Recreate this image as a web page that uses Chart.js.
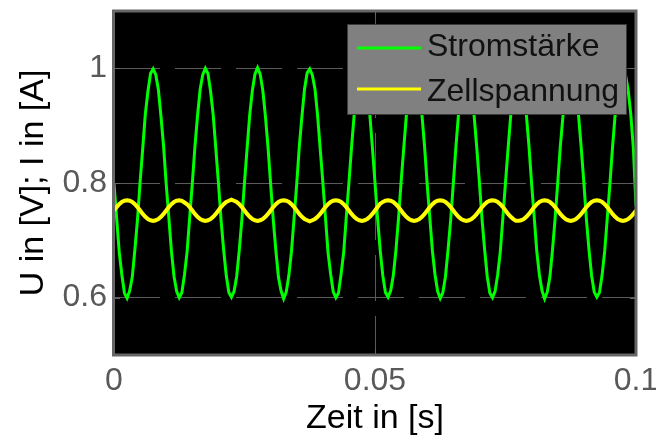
<!DOCTYPE html>
<html><head><meta charset="utf-8">
<script src="https://cdn.jsdelivr.net/npm/chart.js@4"></script>
<style>html,body{margin:0;padding:0;background:#fff}#c{display:block}</style>
</head><body>
<canvas id="c" width="656" height="437"></canvas>
<script>
// Zeit in [s]
const timeValues = [
0,0.0005,0.001,0.0015,0.002,0.0025,0.003,0.0035,0.004,0.0045,0.005,0.0055,0.006,0.0065,0.007,0.0075,0.008,0.0085,0.009,0.0095,
0.01,0.0105,0.011,0.0115,0.012,0.0125,0.013,0.0135,0.014,0.0145,0.015,0.0155,0.016,0.0165,0.017,0.0175,0.018,0.0185,0.019,0.0195,
0.02,0.0205,0.021,0.0215,0.022,0.0225,0.023,0.0235,0.024,0.0245,0.025,0.0255,0.026,0.0265,0.027,0.0275,0.028,0.0285,0.029,0.0295,
0.03,0.0305,0.031,0.0315,0.032,0.0325,0.033,0.0335,0.034,0.0345,0.035,0.0355,0.036,0.0365,0.037,0.0375,0.038,0.0385,0.039,0.0395,
0.04,0.0405,0.041,0.0415,0.042,0.0425,0.043,0.0435,0.044,0.0445,0.045,0.0455,0.046,0.0465,0.047,0.0475,0.048,0.0485,0.049,0.0495,
0.05,0.0505,0.051,0.0515,0.052,0.0525,0.053,0.0535,0.054,0.0545,0.055,0.0555,0.056,0.0565,0.057,0.0575,0.058,0.0585,0.059,0.0595,
0.06,0.0605,0.061,0.0615,0.062,0.0625,0.063,0.0635,0.064,0.0645,0.065,0.0655,0.066,0.0665,0.067,0.0675,0.068,0.0685,0.069,0.0695,
0.07,0.0705,0.071,0.0715,0.072,0.0725,0.073,0.0735,0.074,0.0745,0.075,0.0755,0.076,0.0765,0.077,0.0775,0.078,0.0785,0.079,0.0795,
0.08,0.0805,0.081,0.0815,0.082,0.0825,0.083,0.0835,0.084,0.0845,0.085,0.0855,0.086,0.0865,0.087,0.0875,0.088,0.0885,0.089,0.0895,
0.09,0.0905,0.091,0.0915,0.092,0.0925,0.093,0.0935,0.094,0.0945,0.095,0.0955,0.096,0.0965,0.097,0.0975,0.098,0.0985,0.099,0.0995,
0.1
];
// Stromstärke [A]
const currentValues = [
0.800,0.739,0.680,0.640,0.608,0.599,0.612,0.636,0.684,0.736,0.802,0.860,0.920,0.960,0.991,0.999,0.989,0.963,0.916,0.864,
0.798,0.740,0.681,0.637,0.611,0.600,0.609,0.640,0.680,0.740,0.799,0.863,0.917,0.963,0.989,1.000,0.991,0.960,0.919,0.861,
0.801,0.736,0.684,0.639,0.609,0.601,0.611,0.637,0.683,0.737,0.801,0.861,0.919,0.961,0.990,1.001,0.990,0.962,0.917,0.863,
0.799,0.737,0.683,0.636,0.612,0.598,0.610,0.639,0.681,0.739,0.798,0.864,0.916,0.964,0.992,0.999,0.988,0.964,0.918,0.860,
0.802,0.741,0.679,0.641,0.610,0.600,0.608,0.641,0.679,0.741,0.800,0.862,0.918,0.962,0.990,1.000,0.991,0.961,0.920,0.862,
0.800,0.738,0.682,0.638,0.609,0.601,0.612,0.638,0.682,0.738,0.802,0.860,0.917,0.963,0.989,1.001,0.990,0.962,0.918,0.863,
0.797,0.739,0.681,0.640,0.611,0.599,0.609,0.637,0.684,0.736,0.799,0.863,0.920,0.961,0.991,0.999,0.989,0.963,0.916,0.861,
0.801,0.737,0.684,0.637,0.608,0.600,0.611,0.640,0.680,0.740,0.801,0.861,0.918,0.962,0.990,1.000,0.992,0.960,0.919,0.864,
0.799,0.740,0.680,0.639,0.612,0.598,0.610,0.636,0.683,0.738,0.800,0.864,0.916,0.964,0.989,1.000,0.990,0.963,0.917,0.862,
0.802,0.736,0.683,0.638,0.610,0.601,0.609,0.639,0.681,0.739,0.798,0.862,0.919,0.961,0.992,0.999,0.988,0.962,0.920,0.860,
0.760
];
// Zellspannung [V]
const voltageValues = [
0.752,0.758,0.763,0.767,0.769,0.770,0.769,0.767,0.763,0.758,0.752,0.746,0.741,0.737,0.735,0.734,0.735,0.737,0.741,0.746,
0.752,0.758,0.763,0.767,0.769,0.770,0.769,0.766,0.763,0.758,0.752,0.746,0.741,0.737,0.735,0.734,0.735,0.737,0.741,0.746,
0.752,0.758,0.763,0.767,0.769,0.771,0.769,0.767,0.763,0.758,0.752,0.746,0.741,0.737,0.735,0.734,0.735,0.737,0.741,0.746,
0.752,0.758,0.763,0.767,0.769,0.770,0.769,0.767,0.763,0.758,0.752,0.746,0.741,0.737,0.735,0.733,0.735,0.737,0.741,0.746,
0.752,0.758,0.763,0.767,0.769,0.770,0.769,0.767,0.763,0.758,0.752,0.746,0.741,0.737,0.735,0.734,0.735,0.737,0.741,0.746,
0.752,0.758,0.764,0.767,0.769,0.770,0.769,0.767,0.763,0.758,0.752,0.746,0.741,0.737,0.735,0.734,0.735,0.737,0.741,0.746,
0.752,0.758,0.763,0.767,0.769,0.770,0.769,0.767,0.763,0.758,0.752,0.746,0.741,0.737,0.735,0.734,0.735,0.737,0.741,0.746,
0.752,0.758,0.763,0.767,0.769,0.770,0.769,0.767,0.763,0.758,0.752,0.746,0.741,0.737,0.734,0.734,0.735,0.737,0.741,0.746,
0.752,0.758,0.763,0.767,0.769,0.770,0.769,0.767,0.763,0.758,0.752,0.746,0.741,0.737,0.735,0.734,0.735,0.737,0.741,0.746,
0.752,0.758,0.763,0.767,0.769,0.770,0.769,0.767,0.763,0.758,0.752,0.746,0.741,0.737,0.735,0.734,0.735,0.737,0.741,0.746,
0.752
];
const seriesLabels = ['Stromstärke', 'Zellspannung'];
const seriesColors = ['#00ff00', '#ffff00'];
const xTickValues = [0, 0.05, 0.1];
const yTickValues = [0.6, 0.8, 1];
const xTitle = 'Zeit in [s]';
const yTitle = 'U in [V]; I in [A]';

const FONT = "'Liberation Sans', Arial, sans-serif";
const FRAME = '#666666';

const matlabPlugin = {
  id: 'matlabAxes',
  beforeDraw(chart) {
    const {ctx, chartArea: a} = chart;
    ctx.save();
    ctx.fillStyle = '#ffffff';
    ctx.fillRect(0, 0, chart.width, chart.height);
    ctx.fillStyle = '#000000';
    ctx.fillRect(a.left, a.top, a.right - a.left, a.bottom - a.top);
    ctx.restore();
  },
  afterDraw(chart) {
    const {ctx, chartArea: a, scales} = chart;
    ctx.save();
    ctx.strokeStyle = FRAME;
    ctx.lineWidth = 1;
    ctx.beginPath();
    xTickValues.forEach(v => {
      const px = Math.round(scales.x.getPixelForValue(v)) + 0.5;
      ctx.moveTo(px, a.bottom); ctx.lineTo(px, a.bottom - 6);
      ctx.moveTo(px, a.top); ctx.lineTo(px, a.top + 6);
    });
    yTickValues.forEach(v => {
      const py = Math.round(scales.y.getPixelForValue(v)) + 0.5;
      ctx.moveTo(a.left, py); ctx.lineTo(a.left + 6, py);
      ctx.moveTo(a.right, py); ctx.lineTo(a.right - 6, py);
    });
    ctx.stroke();
    ctx.lineWidth = 3;
    ctx.strokeStyle = FRAME;
    ctx.strokeRect(a.left - 0.5, a.top, a.right - a.left + 0.5, a.bottom - a.top);
    const bx = a.right - 289, by = a.top + 13, bw = 280, bh = 91;
    ctx.fillStyle = '#808080';
    ctx.fillRect(bx, by, bw, bh);
    ctx.lineWidth = 1;
    ctx.strokeStyle = '#3a3a3a';
    ctx.strokeRect(bx + 0.5, by + 0.5, bw - 1, bh - 1);
    const rows = [{ly: by + 24, ty: by + 23}, {ly: by + 65, ty: by + 68}];
    chart.data.datasets.forEach((ds, i) => {
      ctx.strokeStyle = ds.borderColor;
      ctx.lineWidth = 3;
      ctx.beginPath();
      ctx.moveTo(bx + 10, rows[i].ly);
      ctx.lineTo(bx + 74, rows[i].ly);
      ctx.stroke();
      ctx.fillStyle = '#111111';
      ctx.font = '32px ' + FONT;
      ctx.textAlign = 'left';
      ctx.textBaseline = 'middle';
      ctx.fillText(ds.label, bx + 80, rows[i].ty);
    });
    ctx.restore();
  }
};

const toPoints = vals => timeValues.map((t, i) => ({x: t, y: vals[i]}));
const noPad = s => { s.paddingTop = 0; s.paddingBottom = 0; s.paddingLeft = 0; s.paddingRight = 0; };

new Chart(document.getElementById('c'), {
  type: 'line',
  data: {
    datasets: [
      {label: seriesLabels[0], data: toPoints(currentValues), borderColor: seriesColors[0], borderWidth: 3, pointRadius: 0, tension: 0, order: 1},
      {label: seriesLabels[1], data: toPoints(voltageValues), borderColor: seriesColors[1], borderWidth: 4, pointRadius: 0, tension: 0, order: 0}
    ]
  },
  options: {
    responsive: false,
    animation: false,
    devicePixelRatio: 1,
    layout: {padding: {top: 11, right: 20, left: 0, bottom: 0}},
    plugins: {legend: {display: false}, tooltip: {enabled: false}},
    scales: {
      x: {
        type: 'linear', min: 0, max: 0.1,
        afterBuildTicks: s => { s.ticks = xTickValues.map(v => ({value: v})); },
        afterFit: s => { s.height = 82; noPad(s); },
        grid: {color: '#5a5a5a', lineWidth: 1, drawTicks: false},
        border: {display: false, dash: [46, 15]},
        ticks: {color: '#595959', font: {family: FONT, size: 32}, padding: 7, maxRotation: 0, autoSkip: false,
                callback: v => String(v)},
        title: {display: true, text: xTitle, color: '#000', font: {family: FONT, size: 34, lineHeight: 1.1}, padding: {top: 0, bottom: 0}}
      },
      y: {
        type: 'linear', min: 0.5, max: 1.1,
        afterBuildTicks: s => { s.ticks = yTickValues.map(v => ({value: v})); },
        afterFit: s => { s.width = 114; noPad(s); },
        grid: {color: '#5a5a5a', lineWidth: 1, drawTicks: false},
        border: {display: false, dash: [46, 15]},
        ticks: {color: '#595959', font: {family: FONT, size: 32}, padding: 7, autoSkip: false,
                callback: v => String(v)},
        title: {display: true, text: yTitle, color: '#000', font: {family: FONT, size: 34}, padding: {top: 13, bottom: 0}}
      }
    }
  },
  plugins: [matlabPlugin]
});
</script>
</body></html>
